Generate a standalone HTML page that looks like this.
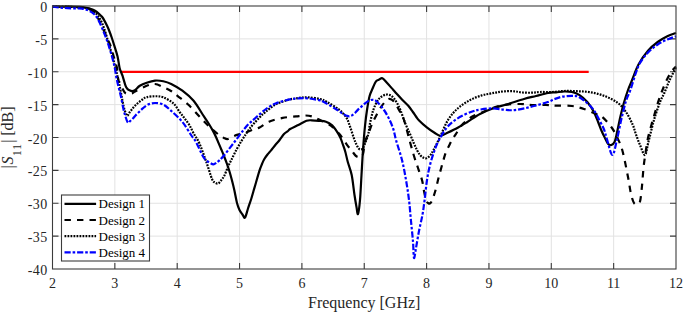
<!DOCTYPE html>
<html><head><meta charset="utf-8">
<style>
html,body{margin:0;padding:0;background:#fff;}
body{width:685px;height:312px;overflow:hidden;position:relative;font-family:"Liberation Serif",serif;color:#262626;}
svg{position:absolute;left:0;top:0;}
.xt{position:absolute;top:277.0px;width:40px;margin-left:-20px;text-align:center;font-size:14px;line-height:1;}
.yt{position:absolute;right:637.4px;letter-spacing:0.4px;font-size:14px;line-height:1;margin-top:-5.0px;}
.lt{position:absolute;left:98.5px;font-size:13px;line-height:1;margin-top:-6.5px;color:#000;}
.xl{position:absolute;left:0;width:100%;top:294.5px;text-align:center;font-size:16px;line-height:1;}
.xl span{position:absolute;left:308.0px;}
</style></head><body>
<svg width="685" height="312" viewBox="0 0 685 312">
<line x1="114.85" y1="6.00" x2="114.85" y2="269.00" stroke="#e2e2e2" stroke-width="1"/>
<line x1="177.20" y1="6.00" x2="177.20" y2="269.00" stroke="#e2e2e2" stroke-width="1"/>
<line x1="239.55" y1="6.00" x2="239.55" y2="269.00" stroke="#e2e2e2" stroke-width="1"/>
<line x1="301.90" y1="6.00" x2="301.90" y2="269.00" stroke="#e2e2e2" stroke-width="1"/>
<line x1="364.25" y1="6.00" x2="364.25" y2="269.00" stroke="#e2e2e2" stroke-width="1"/>
<line x1="426.60" y1="6.00" x2="426.60" y2="269.00" stroke="#e2e2e2" stroke-width="1"/>
<line x1="488.95" y1="6.00" x2="488.95" y2="269.00" stroke="#e2e2e2" stroke-width="1"/>
<line x1="551.30" y1="6.00" x2="551.30" y2="269.00" stroke="#e2e2e2" stroke-width="1"/>
<line x1="613.65" y1="6.00" x2="613.65" y2="269.00" stroke="#e2e2e2" stroke-width="1"/>
<line x1="52.50" y1="38.88" x2="676.00" y2="38.88" stroke="#e2e2e2" stroke-width="1"/>
<line x1="52.50" y1="71.75" x2="676.00" y2="71.75" stroke="#e2e2e2" stroke-width="1"/>
<line x1="52.50" y1="104.62" x2="676.00" y2="104.62" stroke="#e2e2e2" stroke-width="1"/>
<line x1="52.50" y1="137.50" x2="676.00" y2="137.50" stroke="#e2e2e2" stroke-width="1"/>
<line x1="52.50" y1="170.38" x2="676.00" y2="170.38" stroke="#e2e2e2" stroke-width="1"/>
<line x1="52.50" y1="203.25" x2="676.00" y2="203.25" stroke="#e2e2e2" stroke-width="1"/>
<line x1="52.50" y1="236.12" x2="676.00" y2="236.12" stroke="#e2e2e2" stroke-width="1"/>
<path d="M114.85,269.00v-6 M114.85,6.00v6 M177.20,269.00v-6 M177.20,6.00v6 M239.55,269.00v-6 M239.55,6.00v6 M301.90,269.00v-6 M301.90,6.00v6 M364.25,269.00v-6 M364.25,6.00v6 M426.60,269.00v-6 M426.60,6.00v6 M488.95,269.00v-6 M488.95,6.00v6 M551.30,269.00v-6 M551.30,6.00v6 M613.65,269.00v-6 M613.65,6.00v6 M52.50,38.88h6 M676.00,38.88h-6 M52.50,71.75h6 M676.00,71.75h-6 M52.50,104.62h6 M676.00,104.62h-6 M52.50,137.50h6 M676.00,137.50h-6 M52.50,170.38h6 M676.00,170.38h-6 M52.50,203.25h6 M676.00,203.25h-6 M52.50,236.12h6 M676.00,236.12h-6" stroke="#3c3c3c" stroke-width="1.1" fill="none"/>
<line x1="121.09" y1="71.85" x2="588.71" y2="71.85" stroke="#ff0000" stroke-width="2.2"/>
<path d="M52.50,6.50 C55.42,6.52 65.42,6.53 70.00,6.60 C74.58,6.67 77.28,6.68 80.00,6.90 C82.72,7.12 84.47,7.55 86.30,7.90 C88.13,8.25 89.55,8.52 91.00,9.00 C92.45,9.48 93.67,10.00 95.00,10.80 C96.33,11.60 97.83,12.80 99.00,13.80 C100.17,14.80 101.10,15.67 102.00,16.80 C102.90,17.93 103.52,19.02 104.40,20.60 C105.28,22.18 106.45,24.48 107.30,26.30 C108.15,28.12 108.77,29.63 109.50,31.50 C110.23,33.37 110.93,35.25 111.70,37.50 C112.47,39.75 113.13,41.88 114.10,45.00 C115.07,48.12 116.58,52.37 117.50,56.20 C118.42,60.03 119.02,65.37 119.60,68.00 C120.18,70.63 120.52,70.72 121.00,72.00 C121.48,73.28 121.77,73.48 122.50,75.70 C123.23,77.92 124.60,83.13 125.40,85.30 C126.20,87.47 126.62,87.87 127.30,88.70 C127.98,89.53 128.70,89.90 129.50,90.30 C130.30,90.70 131.18,91.13 132.10,91.10 C133.02,91.07 133.72,90.98 135.00,90.10 C136.28,89.22 137.85,87.03 139.80,85.80 C141.75,84.57 144.17,83.57 146.70,82.70 C149.23,81.83 152.23,80.84 155.00,80.60 C157.77,80.36 160.60,80.68 163.30,81.25 C166.00,81.82 168.02,82.42 171.20,84.00 C174.38,85.58 178.67,87.90 182.40,90.70 C186.13,93.50 190.17,96.75 193.60,100.80 C197.03,104.85 200.60,111.38 203.00,115.00 C205.40,118.62 206.38,119.93 208.00,122.50 C209.62,125.07 211.37,127.98 212.70,130.40 C214.03,132.82 215.03,134.92 216.00,137.00 C216.97,139.08 217.62,140.82 218.50,142.90 C219.38,144.98 220.38,147.32 221.30,149.50 C222.22,151.68 223.05,153.58 224.00,156.00 C224.95,158.42 226.08,161.42 227.00,164.00 C227.92,166.58 228.67,168.75 229.50,171.50 C230.33,174.25 231.20,177.42 232.00,180.50 C232.80,183.58 233.47,186.25 234.30,190.00 C235.13,193.75 236.13,199.67 237.00,203.00 C237.87,206.33 238.58,208.08 239.50,210.00 C240.42,211.92 241.58,213.23 242.50,214.50 C243.42,215.77 244.08,218.60 245.00,217.60 C245.92,216.60 246.97,211.60 248.00,208.50 C249.03,205.40 250.28,201.92 251.20,199.00 C252.12,196.08 252.78,193.47 253.50,191.00 C254.22,188.53 254.52,187.57 255.50,184.20 C256.48,180.83 258.32,174.17 259.40,170.80 C260.48,167.43 261.20,165.93 262.00,164.00 C262.80,162.07 263.28,160.78 264.20,159.20 C265.12,157.62 266.38,155.93 267.50,154.50 C268.62,153.07 269.60,152.18 270.90,150.60 C272.20,149.02 273.85,146.77 275.30,145.00 C276.75,143.23 278.15,141.83 279.60,140.00 C281.05,138.17 282.60,135.50 284.00,134.00 C285.40,132.50 286.98,131.83 288.00,131.00 C289.02,130.17 288.38,130.02 290.10,129.00 C291.82,127.98 295.57,126.27 298.30,124.90 C301.03,123.53 304.27,121.57 306.50,120.80 C308.73,120.03 309.65,120.30 311.70,120.30 C313.75,120.30 316.42,120.55 318.80,120.80 C321.18,121.05 323.77,121.03 326.00,121.80 C328.23,122.57 330.48,123.93 332.20,125.40 C333.92,126.87 334.93,128.55 336.30,130.60 C337.67,132.65 339.33,135.47 340.40,137.70 C341.47,139.93 341.88,141.67 342.70,144.00 C343.52,146.33 344.45,148.70 345.30,151.70 C346.15,154.70 346.73,158.12 347.80,162.00 C348.87,165.88 350.58,169.50 351.70,175.00 C352.82,180.50 353.70,189.67 354.50,195.00 C355.30,200.33 355.92,203.83 356.50,207.00 C357.08,210.17 357.42,215.17 358.00,214.00 C358.58,212.83 359.42,206.50 360.00,200.00 C360.58,193.50 361.00,183.33 361.50,175.00 C362.00,166.67 362.42,158.17 363.00,150.00 C363.58,141.83 364.33,132.67 365.00,126.00 C365.67,119.33 366.23,115.00 367.00,110.00 C367.77,105.00 368.63,99.67 369.60,96.00 C370.57,92.33 371.90,90.17 372.80,88.00 C373.70,85.83 374.38,84.20 375.00,83.00 C375.62,81.80 375.80,81.37 376.50,80.80 C377.20,80.23 378.22,80.02 379.20,79.60 C380.18,79.18 381.12,77.77 382.40,78.30 C383.68,78.83 385.08,80.87 386.90,82.80 C388.72,84.73 391.70,88.12 393.30,89.90 C394.90,91.68 395.02,91.87 396.50,93.50 C397.98,95.13 400.23,97.65 402.20,99.70 C404.17,101.75 406.52,103.75 408.30,105.80 C410.08,107.85 411.62,110.22 412.90,112.00 C414.18,113.78 414.97,115.08 416.00,116.50 C417.03,117.92 417.30,118.68 419.10,120.50 C420.90,122.32 424.23,125.35 426.80,127.40 C429.37,129.45 432.22,131.40 434.50,132.80 C436.78,134.20 438.25,135.85 440.50,135.80 C442.75,135.75 445.13,133.85 448.00,132.50 C450.87,131.15 454.48,129.45 457.70,127.70 C460.92,125.95 463.58,124.28 467.30,122.00 C471.02,119.72 475.55,116.33 480.00,114.00 C484.45,111.67 489.33,109.67 494.00,108.00 C498.67,106.33 503.00,105.50 508.00,104.00 C513.00,102.50 519.33,100.33 524.00,99.00 C528.67,97.67 532.00,97.00 536.00,96.00 C540.00,95.00 544.67,93.62 548.00,93.00 C551.33,92.38 553.30,92.55 556.00,92.30 C558.70,92.05 561.55,91.55 564.20,91.50 C566.85,91.45 569.33,91.40 571.90,92.00 C574.47,92.60 577.03,93.43 579.60,95.10 C582.17,96.77 584.98,99.32 587.30,102.00 C589.62,104.68 591.70,107.87 593.50,111.20 C595.30,114.53 596.82,118.87 598.10,122.00 C599.38,125.13 600.30,127.83 601.20,130.00 C602.10,132.17 602.37,132.70 603.50,135.00 C604.63,137.30 606.70,142.13 608.00,143.80 C609.30,145.47 610.18,145.37 611.30,145.00 C612.42,144.63 613.75,143.67 614.70,141.60 C615.65,139.53 616.07,136.70 617.00,132.60 C617.93,128.50 619.18,121.85 620.30,117.00 C621.42,112.15 622.42,108.00 623.70,103.50 C624.98,99.00 626.53,94.08 628.00,90.00 C629.47,85.92 630.75,83.25 632.50,79.00 C634.25,74.75 635.92,69.20 638.50,64.50 C641.08,59.80 644.80,54.55 648.00,50.80 C651.20,47.05 654.48,44.42 657.70,42.00 C660.92,39.58 664.25,37.80 667.30,36.30 C670.35,34.80 674.55,33.55 676.00,33.00" fill="none" stroke-width="2.2" stroke-linejoin="round" stroke="#000"/>
<path d="M52.50,6.50 C55.42,6.55 64.48,6.55 70.00,6.80 C75.52,7.05 82.27,7.55 85.60,8.00 C88.93,8.45 88.40,8.75 90.00,9.50 C91.60,10.25 93.83,11.00 95.20,12.50 C96.57,14.00 96.75,15.47 98.20,18.50 C99.65,21.53 102.40,27.35 103.90,30.70 C105.40,34.05 106.15,36.22 107.20,38.60 C108.25,40.98 109.13,42.07 110.20,45.00 C111.27,47.93 112.48,52.45 113.60,56.20 C114.72,59.95 116.13,63.62 116.90,67.50 C117.67,71.38 117.75,77.02 118.20,79.50 C118.65,81.98 118.72,80.55 119.60,82.40 C120.48,84.25 122.53,88.80 123.50,90.60 C124.47,92.40 124.57,92.63 125.40,93.20 C126.23,93.77 127.38,93.95 128.50,94.00 C129.62,94.05 131.18,93.83 132.10,93.50 C133.02,93.17 133.35,92.42 134.00,92.00 C134.65,91.58 133.88,92.03 136.00,91.00 C138.12,89.97 143.53,86.97 146.70,85.80 C149.87,84.63 152.28,83.80 155.00,84.00 C157.72,84.20 160.33,85.83 163.00,87.00 C165.67,88.17 168.50,89.45 171.00,91.00 C173.50,92.55 175.00,93.92 178.00,96.30 C181.00,98.68 185.27,101.75 189.00,105.30 C192.73,108.85 197.02,114.05 200.40,117.60 C203.78,121.15 206.32,123.80 209.30,126.60 C212.28,129.40 215.85,132.50 218.30,134.40 C220.75,136.30 222.38,137.23 224.00,138.00 C225.62,138.77 226.33,139.33 228.00,139.00 C229.67,138.67 232.00,136.83 234.00,136.00 C236.00,135.17 238.00,134.62 240.00,134.00 C242.00,133.38 244.00,132.97 246.00,132.30 C248.00,131.63 249.73,130.80 252.00,130.00 C254.27,129.20 256.77,128.88 259.60,127.50 C262.43,126.12 265.15,123.30 269.00,121.70 C272.85,120.10 278.20,118.78 282.70,117.90 C287.20,117.02 292.15,116.80 296.00,116.40 C299.85,116.00 303.13,115.48 305.80,115.50 C308.47,115.52 309.80,115.83 312.00,116.50 C314.20,117.17 315.87,117.98 319.00,119.50 C322.13,121.02 327.40,123.18 330.80,125.60 C334.20,128.02 336.70,130.80 339.40,134.00 C342.10,137.20 344.90,141.97 347.00,144.80 C349.10,147.63 350.50,149.13 352.00,151.00 C353.50,152.87 354.67,155.00 356.00,156.00 C357.33,157.00 358.83,157.33 360.00,157.00 C361.17,156.67 362.17,156.50 363.00,154.00 C363.83,151.50 364.00,145.67 365.00,142.00 C366.00,138.33 367.83,135.00 369.00,132.00 C370.17,129.00 370.83,126.67 372.00,124.00 C373.17,121.33 374.33,119.07 376.00,116.00 C377.67,112.93 379.90,108.43 382.00,105.60 C384.10,102.77 386.60,99.65 388.60,99.00 C390.60,98.35 392.27,99.87 394.00,101.70 C395.73,103.53 397.33,106.95 399.00,110.00 C400.67,113.05 402.17,114.67 404.00,120.00 C405.83,125.33 408.33,136.00 410.00,142.00 C411.67,148.00 412.67,151.67 414.00,156.00 C415.33,160.33 416.67,164.00 418.00,168.00 C419.33,172.00 421.00,176.17 422.00,180.00 C423.00,183.83 423.33,187.67 424.00,191.00 C424.67,194.33 425.33,198.00 426.00,200.00 C426.67,202.00 427.17,202.58 428.00,203.00 C428.83,203.42 429.83,204.33 431.00,202.50 C432.17,200.67 433.75,196.08 435.00,192.00 C436.25,187.92 437.42,182.17 438.50,178.00 C439.58,173.83 440.67,170.03 441.50,167.00 C442.33,163.97 442.75,162.30 443.50,159.80 C444.25,157.30 445.05,154.40 446.00,152.00 C446.95,149.60 448.12,147.57 449.20,145.40 C450.28,143.23 451.37,140.93 452.50,139.00 C453.63,137.07 454.47,136.10 456.00,133.80 C457.53,131.50 459.87,127.42 461.70,125.20 C463.53,122.98 465.23,121.95 467.00,120.50 C468.77,119.05 470.13,117.70 472.30,116.50 C474.47,115.30 477.05,114.55 480.00,113.30 C482.95,112.05 486.00,110.38 490.00,109.00 C494.00,107.62 499.00,105.83 504.00,105.00 C509.00,104.17 515.33,104.00 520.00,104.00 C524.67,104.00 527.67,104.83 532.00,105.00 C536.33,105.17 542.00,104.90 546.00,105.00 C550.00,105.10 551.67,105.43 556.00,105.60 C560.33,105.77 567.33,105.43 572.00,106.00 C576.67,106.57 580.00,107.67 584.00,109.00 C588.00,110.33 592.95,112.67 596.00,114.00 C599.05,115.33 599.75,114.83 602.30,117.00 C604.85,119.17 608.85,123.67 611.30,127.00 C613.75,130.33 615.13,133.00 617.00,137.00 C618.87,141.00 620.67,144.33 622.50,151.00 C624.33,157.67 626.58,169.83 628.00,177.00 C629.42,184.17 630.00,189.67 631.00,194.00 C632.00,198.33 633.00,201.33 634.00,203.00 C635.00,204.67 636.00,204.25 637.00,204.00 C638.00,203.75 639.17,204.50 640.00,201.50 C640.83,198.50 641.42,191.58 642.00,186.00 C642.58,180.42 642.92,173.50 643.50,168.00 C644.08,162.50 644.75,158.00 645.50,153.00 C646.25,148.00 647.02,142.67 648.00,138.00 C648.98,133.33 650.42,128.58 651.40,125.00 C652.38,121.42 652.88,120.00 653.90,116.50 C654.92,113.00 656.20,108.08 657.50,104.00 C658.80,99.92 660.12,96.08 661.70,92.00 C663.28,87.92 665.28,83.00 667.00,79.50 C668.72,76.00 670.50,73.17 672.00,71.00 C673.50,68.83 675.33,67.25 676.00,66.50" fill="none" stroke-width="2.2" stroke-linejoin="round" stroke="#000" stroke-dasharray="6.4 6.1"/>
<path d="M52.50,6.50 C55.42,6.55 64.48,6.55 70.00,6.80 C75.52,7.05 82.27,7.55 85.60,8.00 C88.93,8.45 88.40,8.75 90.00,9.50 C91.60,10.25 93.53,10.92 95.20,12.50 C96.87,14.08 98.53,16.42 100.00,19.00 C101.47,21.58 102.67,24.33 104.00,28.00 C105.33,31.67 106.75,36.83 108.00,41.00 C109.25,45.17 110.33,48.83 111.50,53.00 C112.67,57.17 113.65,60.53 115.00,66.00 C116.35,71.47 118.14,79.02 119.60,85.80 C121.06,92.58 122.52,101.75 123.75,106.70 C124.98,111.65 126.04,114.53 127.00,115.50 C127.96,116.47 128.57,113.67 129.50,112.50 C130.43,111.33 131.60,109.72 132.60,108.50 C133.60,107.28 134.47,106.23 135.50,105.20 C136.53,104.17 137.63,103.25 138.80,102.30 C139.97,101.35 141.22,100.35 142.50,99.50 C143.78,98.65 144.42,97.74 146.50,97.20 C148.58,96.66 152.20,96.23 155.00,96.25 C157.80,96.27 160.22,96.09 163.30,97.30 C166.38,98.51 170.72,100.97 173.50,103.50 C176.28,106.03 178.13,110.00 180.00,112.50 C181.87,115.00 183.10,116.33 184.70,118.50 C186.30,120.67 188.12,123.03 189.60,125.50 C191.08,127.97 192.00,130.38 193.60,133.30 C195.20,136.22 197.13,138.38 199.20,143.00 C201.27,147.62 203.87,155.00 206.00,161.00 C208.13,167.00 210.50,175.42 212.00,179.00 C213.50,182.58 214.00,181.75 215.00,182.50 C216.00,183.25 217.00,183.83 218.00,183.50 C219.00,183.17 219.93,181.83 221.00,180.50 C222.07,179.17 223.27,177.72 224.40,175.50 C225.53,173.28 226.65,169.78 227.80,167.20 C228.95,164.62 229.85,162.93 231.30,160.00 C232.75,157.07 234.77,152.83 236.50,149.60 C238.23,146.37 240.12,143.20 241.70,140.60 C243.28,138.00 244.70,135.97 246.00,134.00 C247.30,132.03 248.18,130.53 249.50,128.80 C250.82,127.07 252.20,125.52 253.90,123.60 C255.60,121.68 257.78,119.23 259.70,117.30 C261.62,115.37 262.75,114.13 265.40,112.00 C268.05,109.87 271.75,106.53 275.60,104.50 C279.45,102.47 284.65,100.88 288.50,99.80 C292.35,98.72 295.50,98.42 298.70,98.00 C301.90,97.58 304.17,97.13 307.70,97.30 C311.23,97.47 316.68,98.22 319.90,99.00 C323.12,99.78 323.90,100.30 327.00,102.00 C330.10,103.70 335.33,106.70 338.50,109.20 C341.67,111.70 344.08,114.12 346.00,117.00 C347.92,119.88 348.70,123.00 350.00,126.50 C351.30,130.00 352.77,135.08 353.80,138.00 C354.83,140.92 355.38,142.25 356.20,144.00 C357.02,145.75 357.90,147.58 358.70,148.50 C359.50,149.42 360.28,149.58 361.00,149.50 C361.72,149.42 362.20,149.35 363.00,148.00 C363.80,146.65 364.92,143.73 365.80,141.40 C366.68,139.07 367.60,136.98 368.30,134.00 C369.00,131.02 369.20,127.40 370.00,123.50 C370.80,119.60 371.93,114.23 373.10,110.60 C374.27,106.97 375.72,103.93 377.00,101.70 C378.28,99.47 379.30,98.38 380.80,97.20 C382.30,96.02 384.40,94.92 386.00,94.60 C387.60,94.28 389.07,94.65 390.40,95.30 C391.73,95.95 392.90,97.22 394.00,98.50 C395.10,99.78 395.90,101.00 397.00,103.00 C398.10,105.00 399.22,107.08 400.60,110.50 C401.98,113.92 403.77,119.67 405.30,123.50 C406.83,127.33 408.39,130.25 409.80,133.50 C411.21,136.75 412.55,140.25 413.75,143.00 C414.95,145.75 415.96,148.00 417.00,150.00 C418.04,152.00 419.00,153.75 420.00,155.00 C421.00,156.25 421.96,156.95 423.00,157.50 C424.04,158.05 425.08,158.63 426.25,158.30 C427.42,157.97 428.79,156.88 430.00,155.50 C431.21,154.12 431.87,153.00 433.50,150.00 C435.13,147.00 437.38,142.50 439.80,137.50 C442.22,132.50 445.02,124.83 448.00,120.00 C450.98,115.17 454.03,111.82 457.70,108.50 C461.37,105.18 466.00,102.28 470.00,100.10 C474.00,97.92 478.38,96.47 481.70,95.40 C485.02,94.33 487.35,94.22 489.90,93.70 C492.45,93.18 494.48,92.70 497.00,92.30 C499.52,91.90 502.10,91.47 505.00,91.30 C507.90,91.13 511.47,91.10 514.40,91.30 C517.33,91.50 519.67,92.27 522.60,92.50 C525.53,92.73 529.10,92.78 532.00,92.70 C534.90,92.62 536.67,92.12 540.00,92.00 C543.33,91.88 548.00,92.17 552.00,92.00 C556.00,91.83 559.83,91.13 564.00,91.00 C568.17,90.87 572.67,91.00 577.00,91.20 C581.33,91.40 585.58,91.47 590.00,92.20 C594.42,92.93 599.00,93.92 603.50,95.60 C608.00,97.28 613.25,99.57 617.00,102.30 C620.75,105.03 623.40,108.30 626.00,112.00 C628.60,115.70 630.93,120.75 632.60,124.50 C634.27,128.25 634.77,131.08 636.00,134.50 C637.23,137.92 638.50,141.58 640.00,145.00 C641.50,148.42 643.60,155.50 645.00,155.00 C646.40,154.50 647.03,147.37 648.40,142.00 C649.77,136.63 651.85,127.80 653.20,122.80 C654.55,117.80 655.30,115.63 656.50,112.00 C657.70,108.37 659.12,104.12 660.40,101.00 C661.68,97.88 662.77,96.55 664.20,93.30 C665.63,90.05 667.28,85.33 669.00,81.50 C670.72,77.67 673.33,72.55 674.50,70.30 C675.67,68.05 675.75,68.38 676.00,68.00" fill="none" stroke-width="2.2" stroke-linejoin="round" stroke="#000" stroke-dasharray="1.8 1.2"/>
<path d="M52.50,6.50 C53.75,6.67 57.53,7.22 60.00,7.50 C62.47,7.78 64.47,8.05 67.30,8.20 C70.13,8.35 74.55,8.33 77.00,8.40 C79.45,8.47 80.45,8.40 82.00,8.60 C83.55,8.80 84.97,9.15 86.30,9.60 C87.63,10.05 88.83,10.67 90.00,11.30 C91.17,11.93 92.22,12.48 93.30,13.40 C94.38,14.32 95.48,15.37 96.50,16.80 C97.52,18.23 98.27,19.63 99.40,22.00 C100.53,24.37 102.15,28.23 103.30,31.00 C104.45,33.77 105.43,36.27 106.30,38.60 C107.17,40.93 107.57,42.07 108.50,45.00 C109.43,47.93 110.87,52.45 111.90,56.20 C112.93,59.95 113.95,63.93 114.70,67.50 C115.45,71.07 115.90,74.95 116.40,77.60 C116.90,80.25 117.17,81.17 117.70,83.40 C118.23,85.63 119.05,88.77 119.60,91.00 C120.15,93.23 120.28,93.47 121.00,96.80 C121.72,100.13 122.80,106.77 123.90,111.00 C125.00,115.23 126.58,120.50 127.60,122.20 C128.62,123.90 129.17,121.77 130.00,121.20 C130.83,120.63 131.68,119.75 132.60,118.80 C133.52,117.85 134.47,116.58 135.50,115.50 C136.53,114.42 137.55,113.52 138.80,112.30 C140.05,111.08 141.47,109.48 143.00,108.20 C144.53,106.92 146.00,105.47 148.00,104.60 C150.00,103.73 152.45,103.00 155.00,103.00 C157.55,103.00 160.60,103.28 163.30,104.60 C166.00,105.92 168.02,108.00 171.20,110.90 C174.38,113.80 179.03,117.90 182.40,122.00 C185.77,126.10 189.13,132.17 191.40,135.50 C193.67,138.83 193.90,138.25 196.00,142.00 C198.10,145.75 201.75,154.58 204.00,158.00 C206.25,161.42 207.92,161.45 209.50,162.50 C211.08,163.55 212.33,164.28 213.50,164.30 C214.67,164.32 215.52,163.25 216.50,162.60 C217.48,161.95 218.12,161.62 219.40,160.40 C220.68,159.18 222.38,157.48 224.20,155.30 C226.02,153.12 228.47,149.68 230.30,147.30 C232.13,144.92 233.58,143.12 235.20,141.00 C236.82,138.88 238.62,136.43 240.00,134.60 C241.38,132.77 242.12,131.73 243.50,130.00 C244.88,128.27 246.95,125.63 248.30,124.20 C249.65,122.77 249.90,122.90 251.60,121.40 C253.30,119.90 256.00,117.33 258.50,115.20 C261.00,113.07 263.75,110.55 266.60,108.60 C269.45,106.65 271.95,105.00 275.60,103.50 C279.25,102.00 284.65,100.47 288.50,99.60 C292.35,98.73 295.50,98.52 298.70,98.30 C301.90,98.08 304.17,97.97 307.70,98.30 C311.23,98.63 317.35,99.77 319.90,100.30 C322.45,100.83 320.55,100.17 323.00,101.50 C325.45,102.83 331.77,106.58 334.60,108.30 C337.43,110.02 338.43,110.78 340.00,111.80 C341.57,112.82 342.83,113.72 344.00,114.40 C345.17,115.08 346.08,115.58 347.00,115.90 C347.92,116.22 348.67,116.38 349.50,116.30 C350.33,116.22 351.08,115.95 352.00,115.40 C352.92,114.85 354.00,113.97 355.00,113.00 C356.00,112.03 356.97,110.63 358.00,109.60 C359.03,108.57 359.97,107.88 361.20,106.80 C362.43,105.72 364.08,104.12 365.40,103.10 C366.72,102.08 367.87,101.25 369.10,100.70 C370.33,100.15 371.48,99.63 372.80,99.80 C374.12,99.97 375.13,100.00 377.00,101.70 C378.87,103.40 381.90,106.95 384.00,110.00 C386.10,113.05 388.02,116.73 389.60,120.00 C391.18,123.27 392.43,126.27 393.50,129.60 C394.57,132.93 394.58,134.93 396.00,140.00 C397.42,145.07 400.33,153.33 402.00,160.00 C403.67,166.67 404.83,173.33 406.00,180.00 C407.17,186.67 408.17,193.17 409.00,200.00 C409.83,206.83 410.33,214.05 411.00,221.00 C411.67,227.95 412.50,235.53 413.00,241.70 C413.50,247.87 413.50,256.95 414.00,258.00 C414.50,259.05 415.17,252.50 416.00,248.00 C416.83,243.50 417.92,236.57 419.00,231.00 C420.08,225.43 421.57,219.77 422.50,214.60 C423.43,209.43 423.85,205.77 424.60,200.00 C425.35,194.23 426.10,185.83 427.00,180.00 C427.90,174.17 428.83,169.67 430.00,165.00 C431.17,160.33 432.58,156.00 434.00,152.00 C435.42,148.00 436.50,144.88 438.50,141.00 C440.50,137.12 443.45,132.03 446.00,128.70 C448.55,125.37 450.88,123.25 453.80,121.00 C456.72,118.75 460.30,116.82 463.50,115.20 C466.70,113.58 470.25,112.23 473.00,111.30 C475.75,110.37 476.88,110.08 480.00,109.60 C483.12,109.12 487.80,108.40 491.70,108.40 C495.60,108.40 499.90,109.30 503.40,109.60 C506.90,109.90 509.20,110.40 512.70,110.20 C516.20,110.00 520.52,109.18 524.40,108.40 C528.28,107.62 532.10,106.57 536.00,105.50 C539.90,104.43 544.63,103.10 547.80,102.00 C550.97,100.90 552.52,99.80 555.00,98.90 C557.48,98.00 559.88,97.12 562.70,96.60 C565.52,96.08 569.35,95.80 571.90,95.80 C574.45,95.80 575.68,95.57 578.00,96.60 C580.32,97.63 583.22,99.82 585.80,102.00 C588.38,104.18 591.20,106.62 593.50,109.70 C595.80,112.78 597.82,117.12 599.60,120.50 C601.38,123.88 602.97,126.85 604.20,130.00 C605.43,133.15 605.63,135.23 607.00,139.40 C608.37,143.57 610.73,155.00 612.40,155.00 C614.07,155.00 615.50,145.40 617.00,139.40 C618.50,133.40 619.90,125.40 621.40,119.00 C622.90,112.60 624.50,105.83 626.00,101.00 C627.50,96.17 628.82,94.50 630.40,90.00 C631.98,85.50 633.90,78.50 635.50,74.00 C637.10,69.50 637.92,66.58 640.00,63.00 C642.08,59.42 645.05,55.58 648.00,52.50 C650.95,49.42 654.48,46.67 657.70,44.50 C660.92,42.33 664.25,40.87 667.30,39.50 C670.35,38.13 674.55,36.83 676.00,36.30" fill="none" stroke-width="2.2" stroke-linejoin="round" stroke="#0000ff" stroke-dasharray="6.2 1.9 2.6 1.9"/>
<rect x="52.50" y="6.00" width="623.50" height="263.00" fill="none" stroke="#3c3c3c" stroke-width="1.1"/>
<rect x="61.50" y="195.00" width="88.00" height="66.00" fill="#fff" stroke="#3c3c3c" stroke-width="1.1"/>
<line x1="64.5" y1="203.80" x2="96.1" y2="203.80" stroke-width="2.2" stroke="#000"/>
<line x1="64.5" y1="220.00" x2="96.1" y2="220.00" stroke-width="2.2" stroke="#000" stroke-dasharray="6.4 6.1"/>
<line x1="64.5" y1="236.10" x2="96.1" y2="236.10" stroke-width="2.2" stroke="#000" stroke-dasharray="1.8 1.2"/>
<line x1="64.5" y1="252.30" x2="96.1" y2="252.30" stroke-width="2.2" stroke="#0000ff" stroke-dasharray="6.2 1.9 2.6 1.9"/>
<text font-family="Liberation Serif" font-size="16" fill="#262626" transform="translate(13.1,168.5) rotate(-90)"><tspan x="0" y="0">|</tspan><tspan x="4.0" y="0" font-style="italic">S</tspan><tspan x="12.5" y="7.4" font-size="11.5">1</tspan><tspan x="18.7" y="7.4" font-size="11.5">1</tspan><tspan x="25.7" y="0">|</tspan><tspan x="32.8" y="0">[dB]</tspan></text>
</svg>
<div class="xt" style="left:52.50px">2</div>
<div class="xt" style="left:114.85px">3</div>
<div class="xt" style="left:177.20px">4</div>
<div class="xt" style="left:239.55px">5</div>
<div class="xt" style="left:301.90px">6</div>
<div class="xt" style="left:364.25px">7</div>
<div class="xt" style="left:426.60px">8</div>
<div class="xt" style="left:488.95px">9</div>
<div class="xt" style="left:551.30px">10</div>
<div class="xt" style="left:613.65px">11</div>
<div class="xt" style="left:676.00px">12</div>
<div class="yt" style="top:6.00px">0</div>
<div class="yt" style="top:38.88px">-5</div>
<div class="yt" style="top:71.75px">-10</div>
<div class="yt" style="top:104.62px">-15</div>
<div class="yt" style="top:137.50px">-20</div>
<div class="yt" style="top:170.38px">-25</div>
<div class="yt" style="top:203.25px">-30</div>
<div class="yt" style="top:236.12px">-35</div>
<div class="yt" style="top:269.00px">-40</div>
<div class="xl"><span>Frequency [GHz]</span></div>
<div class="lt" style="top:203.80px">Design 1</div><div class="lt" style="top:220.00px">Design 2</div><div class="lt" style="top:236.10px">Design 3</div><div class="lt" style="top:252.30px">Design 4</div>
</body></html>
